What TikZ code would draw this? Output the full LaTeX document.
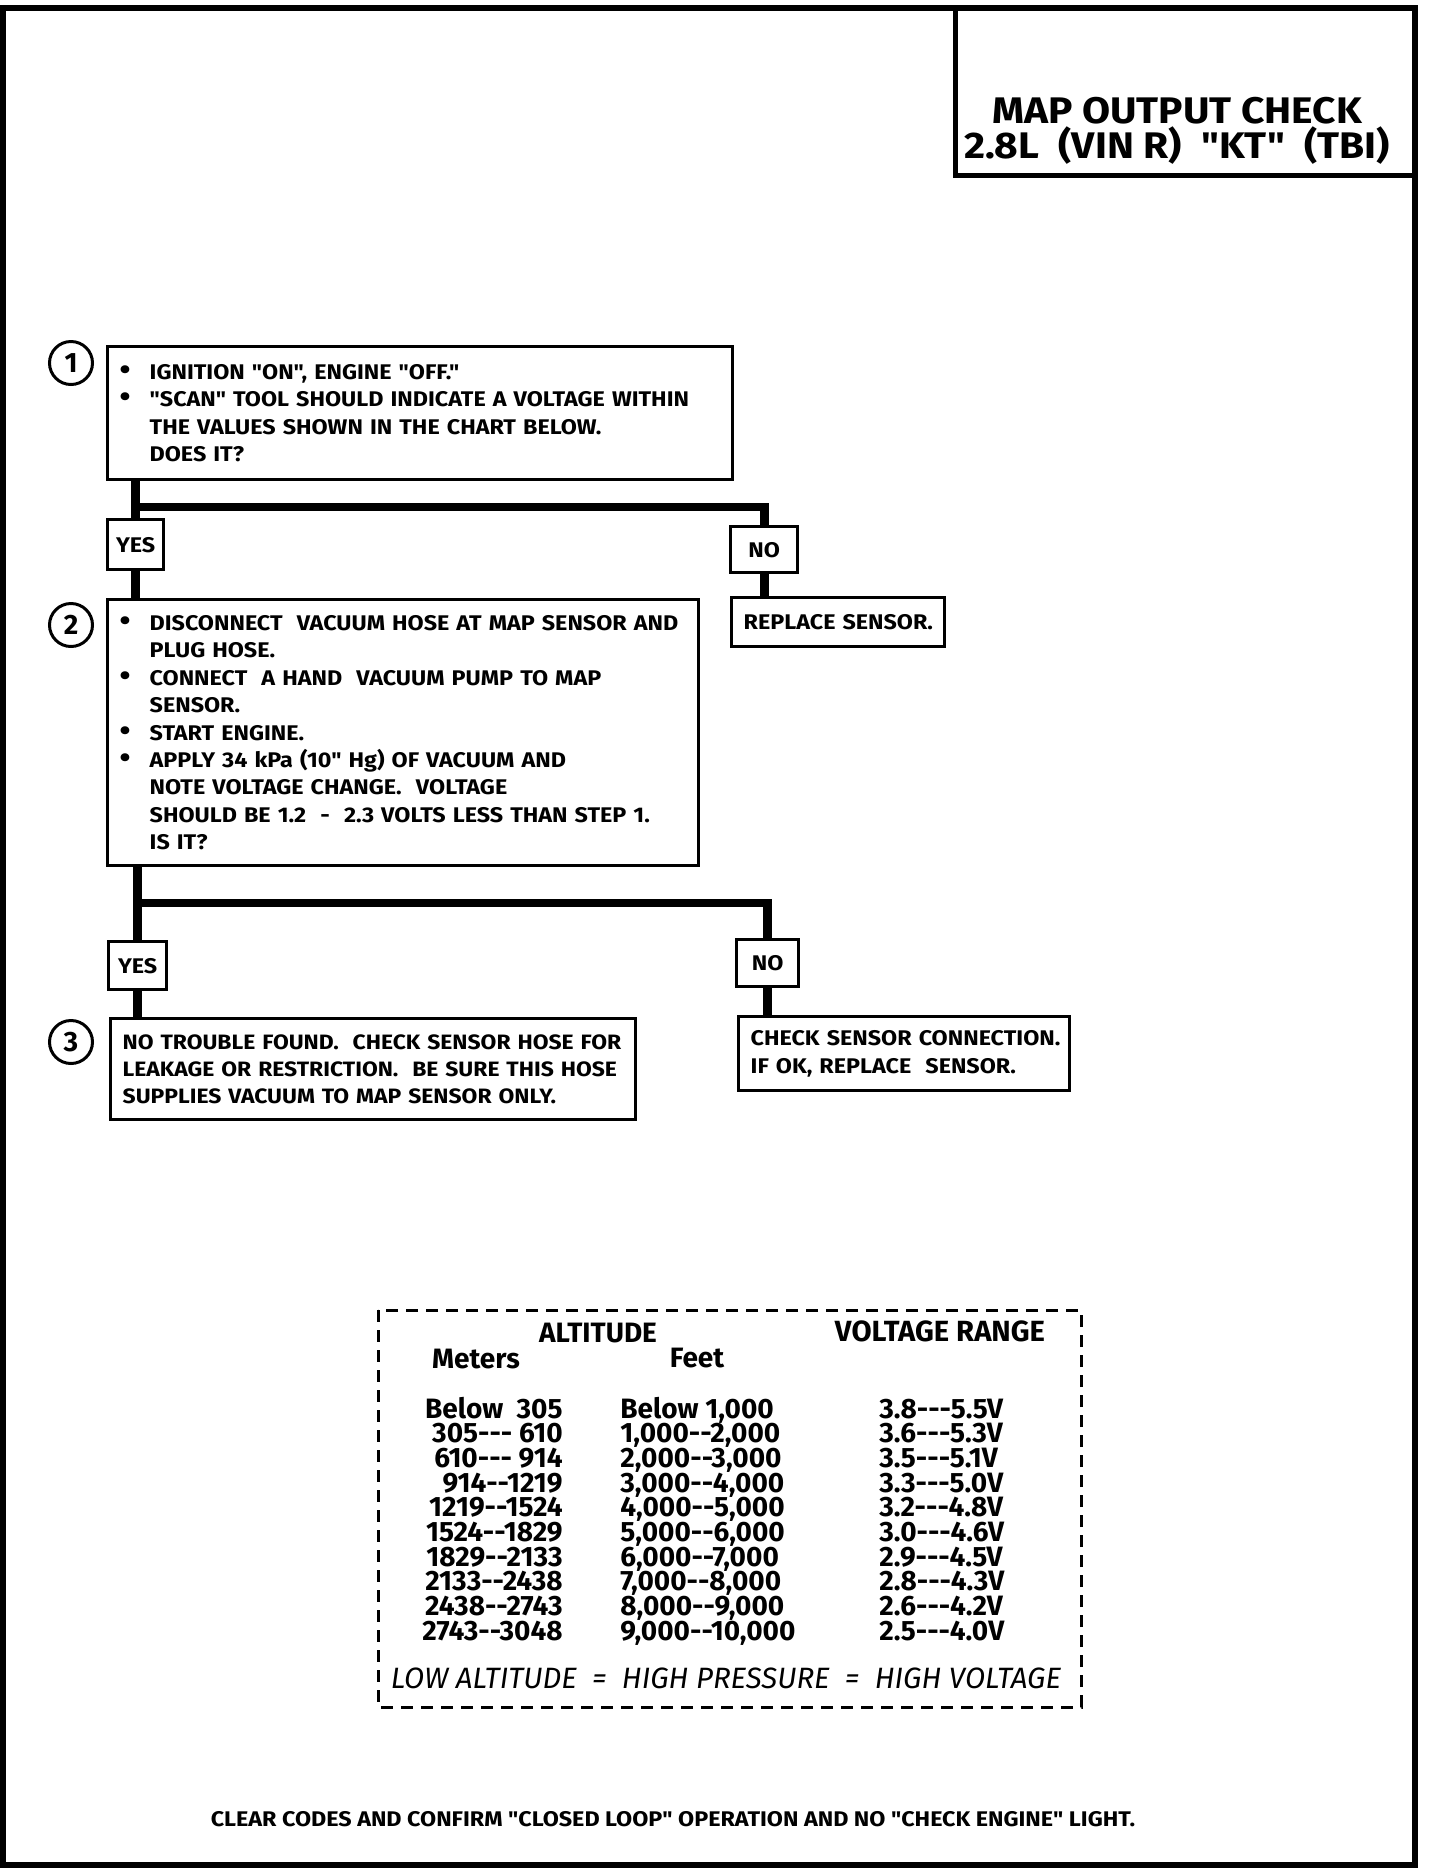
\documentclass[tikz,border=0pt]{standalone}
\usepackage{fontspec}
\setmainfont{Fira Sans}
\newfontfamily\wide{Fira Sans}[FakeStretch=1.1]
\newcommand{\body}{\wide\fontsize{10.6}{13.7}\selectfont\bfseries}
\newcommand{\bul}{\makebox[15pt][l]{\scalebox{1.35}{\textbullet}}}
\newcommand{\ind}{\hspace*{15pt}}

\begin{document}
\begin{tikzpicture}[x=0.5pt,y=-0.5pt]
  \tikzstyle{stepbox}=[draw,line width=1.7pt,anchor=north west,align=left,inner xsep=6pt,inner ysep=0pt,font=\body]
  \tikzstyle{answer}=[draw,line width=1.7pt,anchor=north west,align=center,inner sep=0pt,font=\body]
  \tikzstyle{num}=[circle,draw,line width=1.5pt,minimum size=21.5pt,inner sep=0pt,font=\fontsize{14}{14}\selectfont\bfseries]
  \tikzstyle{flow}=[line width=4.3pt]
  \tikzstyle{row}=[inner sep=0pt,font=\fontsize{14}{14}\selectfont\bfseries]
  \useasboundingbox (0,0) rectangle (1440,1876);
  \draw[line width=3pt] (3,8) rectangle (1415,1865);
  \draw[line width=2.5pt] (955,8) -- (955,175) -- (1415,175);
  \node[align=center,inner sep=0pt,font=\wide\fontsize{18.5}{15.5}\selectfont\bfseries] (title) at (1177,131) {MAP OUTPUT CHECK\\2.8L\ \ (VIN R)\ \ "KT"\ \ (TBI)};

  \node[num] (C_1) at (71,363) {1};
  \node[num] (C_2) at (71,625) {2};
  \node[num] (C_3) at (71,1042) {3};

  \node[stepbox,text width=300.5pt,minimum height=66.5pt] (S_1) at (106,345) {\mbox{\bul IGNITION "ON", ENGINE "OFF."}\\ \mbox{\bul "SCAN" TOOL SHOULD INDICATE A VOLTAGE WITHIN}\\ \mbox{\ind THE VALUES SHOWN IN THE CHART BELOW.}\\ \mbox{\ind DOES IT?}};
  \node[answer,minimum width=28pt,minimum height=25pt] (Y_1) at (106,518) {YES};
  \node[answer,minimum width=33.5pt,minimum height=23pt] (N_1) at (729,525) {NO};
  \node[stepbox,text width=94.5pt,minimum height=24.5pt] (R_1) at (730,596) {\mbox{REPLACE SENSOR.}};
  \node[stepbox,text width=283.5pt,minimum height=133pt] (S_2) at (106,598) {\mbox{\bul DISCONNECT\ \ VACUUM HOSE AT MAP SENSOR AND}\\ \mbox{\ind PLUG HOSE.}\\ \mbox{\bul CONNECT\ \ A HAND\ \ VACUUM PUMP TO MAP}\\ \mbox{\ind SENSOR.}\\ \mbox{\bul START ENGINE.}\\ \mbox{\bul APPLY 34 kPa (10" Hg) OF VACUUM AND}\\ \mbox{\ind NOTE VOLTAGE CHANGE.\ \ VOLTAGE}\\ \mbox{\ind SHOULD BE 1.2\ \ -\ \ 2.3 VOLTS LESS THAN STEP 1.}\\ \mbox{\ind IS IT?}};
  \node[answer,minimum width=29pt,minimum height=24pt] (Y_2) at (107,940) {YES};
  \node[answer,minimum width=31pt,minimum height=23.5pt] (N_2) at (735,938) {NO};
  \node[stepbox,text width=250.5pt,minimum height=50.5pt,font=\wide\fontsize{10.4}{13.7}\selectfont\bfseries] (S_3) at (109,1017) {\mbox{NO TROUBLE FOUND.\ \ CHECK SENSOR HOSE FOR}\\ \mbox{LEAKAGE OR RESTRICTION.\ \ BE SURE THIS HOSE}\\ \mbox{SUPPLIES VACUUM TO MAP SENSOR ONLY.}};
  \node[stepbox,text width=153.5pt,minimum height=37pt] (K_1) at (737,1015) {\mbox{CHECK SENSOR CONNECTION.}\\ \mbox{IF OK, REPLACE\ \ SENSOR.}};

  \coordinate (B_1) at (0,507);
  \coordinate (B_2) at (0,903);
  \draw[flow] (S_1.south -| Y_1.north) -- (Y_1.north);
  \draw[flow] (Y_1.north |- B_1) -| (N_1.north);
  \draw[flow] (Y_1.south) -- (Y_1.south |- S_2.north);
  \draw[flow] (N_1.south) -- (N_1.south |- R_1.north);
  \draw[flow] (S_2.south -| Y_2.north) -- (Y_2.north);
  \draw[flow] (Y_2.north |- B_2) -| (N_2.north);
  \draw[flow] (Y_2.south) -- (Y_2.south |- S_3.north);
  \draw[flow] (N_2.south) -- (N_2.south |- K_1.north);

  \draw[line width=1.5pt,dash pattern=on 6pt off 4pt] (378,1310) rectangle (1081,1707);
  \node[row,anchor=base] (alt) at (598,1342) {ALTITUDE};
  \node[row,anchor=base,font=\fontsize{14.6}{14.6}\selectfont\bfseries] (volt) at (940,1341) {VOLTAGE RANGE};
  \node[row,anchor=base] (met) at (476,1368) {Meters};
  \node[row,anchor=base] (ft) at (697,1367) {Feet};
  \foreach \m/\f/\v [count=\i from 0] in {{Below\ \ 305}/{Below 1,000}/{3.8-{}-{}-5.5V},{305-{}-{}- 610}/{1,000-{}-2,000}/{3.6-{}-{}-5.3V},{610-{}-{}- 914}/{2,000-{}-3,000}/{3.5-{}-{}-5.1V},{914-{}-1219}/{3,000-{}-4,000}/{3.3-{}-{}-5.0V},{1219-{}-1524}/{4,000-{}-5,000}/{3.2-{}-{}-4.8V},{1524-{}-1829}/{5,000-{}-6,000}/{3.0-{}-{}-4.6V},{1829-{}-2133}/{6,000-{}-7,000}/{2.9-{}-{}-4.5V},{2133-{}-2438}/{7,000-{}-8,000}/{2.8-{}-{}-4.3V},{2438-{}-2743}/{8,000-{}-9,000}/{2.6-{}-{}-4.2V},{2743-{}-3048}/{9,000-{}-10,000}/{2.5-{}-{}-4.0V}} {
    \node[row,anchor=base east] (m_\i) at (563,1418+24.7*\i) {\m};
    \node[row,anchor=base west] (f_\i) at (620,1418+24.7*\i) {\f};
    \node[row,anchor=base west] (v_\i) at (879,1418+24.7*\i) {\v};
  }
  \node[inner sep=0pt,font=\fontsize{14.7}{14.7}\selectfont\itshape] (rule) at (726,1678) {LOW ALTITUDE\ \ =\ \ HIGH PRESSURE\ \ =\ \ HIGH VOLTAGE};

  \node[inner sep=0pt,font=\body] (foot) at (673,1819) {CLEAR CODES AND CONFIRM "CLOSED LOOP" OPERATION AND NO "CHECK ENGINE" LIGHT.};
\end{tikzpicture}
\end{document}
